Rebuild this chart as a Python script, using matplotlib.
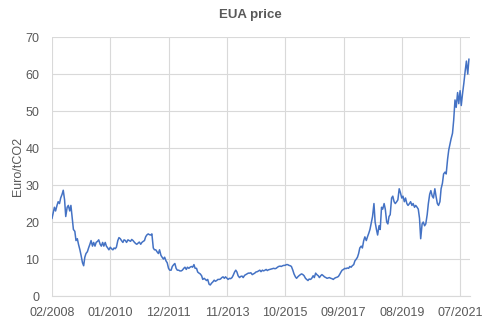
import matplotlib
matplotlib.use('Agg')
from matplotlib import pyplot as plt
import pandas as pd

# EUA price (Euro/tCO2), two readings per month (1st and 15th)
price_2008 = [21.0, 22.5, 24.0, 23.0, 24.5, 25.5, 25.0, 26.5, 27.5, 28.6, 26.0, 21.5,
              24.0, 24.5, 23.0, 24.5, 21.0, 18.0, 17.5, 15.0, 15.5, 14.0]
price_2009 = [12.5, 11.0, 9.0, 8.2, 10.5, 11.5, 12.0, 13.0, 14.0, 15.0, 13.5, 14.5,
              13.5, 14.5, 14.8, 15.2, 14.0, 13.5, 14.5, 13.5, 14.5, 13.5, 13.0, 12.5]
price_2010 = [13.2, 12.8, 12.5, 13.0, 12.8, 13.2, 15.0, 15.8, 15.5, 15.0, 14.5, 15.2,
              15.0, 14.5, 15.2, 15.0, 14.8, 15.3, 15.0, 14.6, 14.2, 14.0, 14.3, 14.6]
price_2011 = [14.0, 14.5, 14.8, 15.0, 16.0, 16.5, 16.8, 16.6, 16.5, 16.8, 13.0, 12.5,
              12.5, 12.0, 11.5, 12.5, 11.0, 10.5, 10.0, 10.5, 9.5, 9.0, 7.5, 7.0]
price_2012 = [7.0, 8.0, 8.5, 8.8, 7.5, 7.0, 7.0, 6.8, 6.8, 7.0, 7.5, 7.8,
              7.2, 7.8, 7.5, 7.8, 8.0, 7.8, 8.5, 7.5, 7.5, 6.5, 6.2, 6.0]
price_2013 = [5.5, 4.5, 4.8, 4.5, 4.2, 4.5, 3.2, 3.0, 3.5, 3.8, 4.3, 4.0,
              4.2, 4.5, 4.5, 4.6, 5.0, 5.2, 4.8, 5.2, 4.8, 4.5, 4.8, 4.7]
price_2014 = [5.0, 5.6, 6.5, 7.0, 6.5, 5.5, 5.0, 5.3, 5.4, 5.0, 5.6, 5.8,
              6.0, 6.2, 6.2, 6.3, 5.8, 6.0, 6.2, 6.5, 6.6, 6.8, 7.0, 6.6]
price_2015 = [7.0, 6.8, 7.0, 7.2, 6.9, 7.1, 7.2, 7.3, 7.4, 7.5, 7.4, 7.5,
              7.8, 8.0, 8.1, 8.0, 8.2, 8.3, 8.3, 8.5, 8.5, 8.3, 8.2, 8.0]
price_2016 = [7.0, 6.0, 5.2, 4.8, 5.2, 5.5, 5.8, 6.0, 5.8, 5.5, 4.8, 4.5,
              4.2, 4.6, 4.5, 4.8, 5.5, 5.0, 6.2, 5.8, 5.5, 5.0, 5.5, 5.8]
price_2017 = [5.5, 5.2, 5.0, 4.8, 4.9, 5.0, 4.8, 4.7, 4.5, 4.8, 5.0, 5.1,
              5.3, 5.8, 6.5, 7.0, 7.2, 7.5, 7.4, 7.6, 7.5, 8.0, 7.8, 8.2]
price_2018 = [8.5, 9.5, 10.0, 10.5, 11.5, 13.0, 13.5, 13.0, 15.0, 16.0, 15.0, 16.0,
              17.0, 18.0, 20.0, 21.5, 25.0, 20.0, 18.0, 16.5, 19.0, 18.0, 24.0, 23.5]
price_2019 = [25.0, 23.5, 20.0, 19.5, 21.5, 22.0, 26.5, 27.0, 25.5, 25.0, 25.5, 26.0,
              29.0, 28.0, 26.5, 27.0, 25.5, 26.5, 25.0, 24.5, 25.0, 25.5, 24.5, 25.0]
price_2020 = [24.0, 24.5, 24.0, 23.5, 21.0, 15.5, 19.5, 20.0, 19.0, 19.5, 22.0, 25.0,
              27.5, 28.5, 27.0, 26.5, 29.0, 27.0, 25.0, 24.5, 25.5, 29.0, 30.5, 33.0]
price_2021 = [33.5, 33.0, 37.0, 39.5, 41.0, 42.5, 44.0, 47.5, 53.0, 51.0, 55.0, 52.0,
              55.5, 51.5, 55.0, 57.5, 61.0, 63.5, 60.0, 64.0]

tick_labels = ['02/2008', '01/2010', '12/2011', '11/2013',
               '10/2015', '09/2017', '08/2019', '07/2021']

prices = (price_2008 + price_2009 + price_2010 + price_2011 + price_2012 +
          price_2013 + price_2014 + price_2015 + price_2016 + price_2017 +
          price_2018 + price_2019 + price_2020 + price_2021)
dates = pd.date_range(start='2008-02-01', periods=len(prices), freq='SMS')

grey = '#595959'
grid = '#d9d9d9'

plt.rcParams['font.family'] = ['Liberation Sans', 'DejaVu Sans']

fig = plt.figure(figsize=(5, 3.25), dpi=100)
ax = fig.add_axes([0.104, 0.089, 0.836, 0.797])

ax.plot(dates, prices, color='#4472C4', linewidth=1.1)

ticks = [pd.to_datetime(t, format='%m/%Y') for t in tick_labels]
ax.set_xticks(ticks)
ax.set_xticklabels(tick_labels)
ax.set_xlim(ticks[0], pd.Timestamp('2021-10-28'))
ax.set_ylim(0, 70)
ax.set_yticks(range(0, 71, 10))

ax.grid(True, color=grid, linewidth=0.8)
ax.set_axisbelow(True)
for side in ['top', 'right', 'left']:
    ax.spines[side].set_visible(False)
ax.spines['bottom'].set_color(grid)
ax.spines['bottom'].set_linewidth(0.8)

ax.tick_params(axis='both', length=0, labelsize=9, colors=grey)
ax.tick_params(axis='y', pad=9)
ax.tick_params(axis='x', pad=8)

ax.set_ylabel('Euro/tCO2', fontsize=9, color=grey, labelpad=1)
fig.text(0.5, 0.953, 'EUA price', ha='center', va='center',
         fontsize=9.5, fontweight='bold', color=grey)

fig.savefig('out.png', dpi=100)
